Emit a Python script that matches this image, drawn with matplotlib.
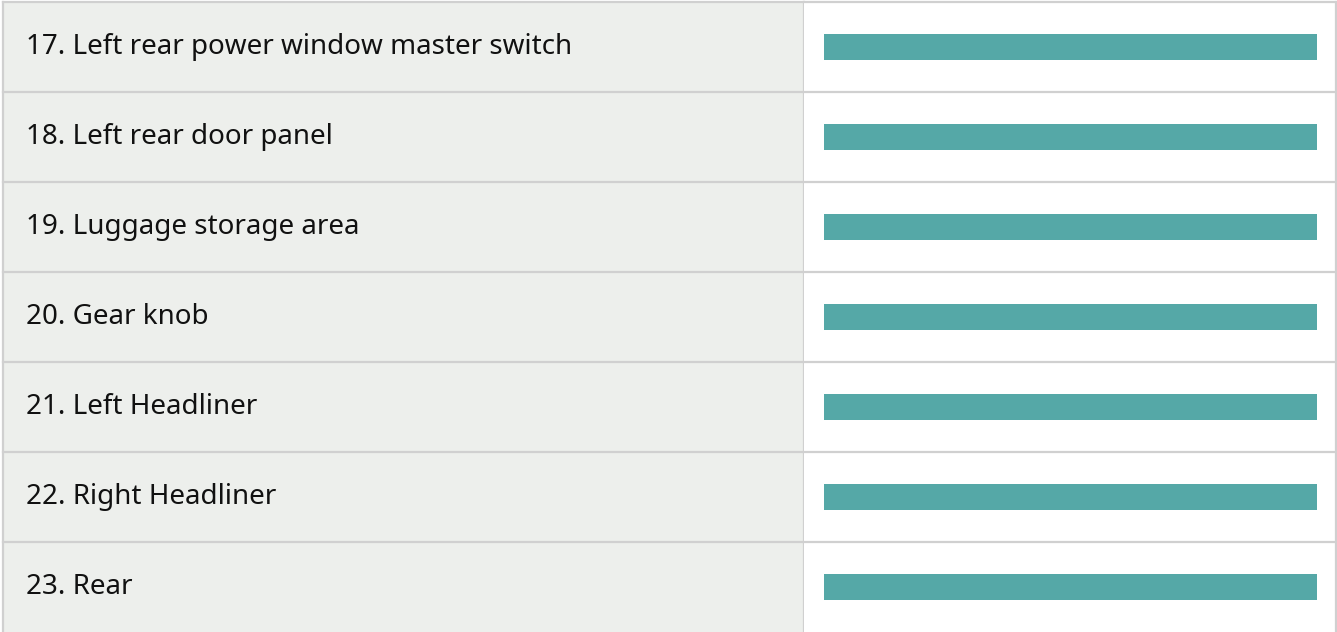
import matplotlib.pyplot as plt

# Table rows: label and bar value (all bars full length)
labels = ['17. Left rear power window master switch',
          '18. Left rear door panel',
          '19. Luggage storage area',
          '20. Gear knob',
          '21. Left Headliner',
          '22. Right Headliner',
          '23. Rear']
values = [100, 100, 100, 100, 100, 100, 100]

W, H = 1337, 632
grid_color = '#d0d0d0'
cell_color = '#edefec'
bar_color = '#55a8a7'

plt.rcParams['font.family'] = ['Noto Sans', 'DejaVu Sans']

fig = plt.figure(figsize=(W / 100, H / 100), dpi=100)
n = len(labels)

# label column
ax_lab = fig.add_axes([3 / W, 0, 801 / W, 630 / H])
ax_lab.set_facecolor(cell_color)
ax_lab.set_xlim(0, 1)
ax_lab.set_ylim(n, 0)
for i, lab in enumerate(labels):
    ax_lab.text(23 / 801, i + 0.5, lab, va='center', ha='left',
                fontsize=20, color='#111111')

# bar column
ax_bar = fig.add_axes([804 / W, 0, 532 / W, 630 / H])
ax_bar.set_facecolor('white')
ax_bar.barh(range(n), values, height=0.29, color=bar_color, align='center')
ax_bar.set_xlim(-20 / 4.93, 100 + 19 / 4.93)
ax_bar.set_ylim(n - 0.5, -0.5)

for ax in (ax_lab, ax_bar):
    ax.set_xticks([])
    ax.set_yticks([])
    for s in ax.spines.values():
        s.set_visible(False)

ax_lab.spines['left'].set_visible(True)
ax_lab.spines['right'].set_visible(True)
ax_bar.spines['right'].set_visible(True)
for s in (ax_lab.spines['left'], ax_lab.spines['right'], ax_bar.spines['right']):
    s.set_color(grid_color)
    s.set_linewidth(1.6)

# row separators
for ax, lo in ((ax_lab, 0), (ax_bar, -0.5)):
    for k in range(n):
        ax.axhline(lo + k, color=grid_color, linewidth=1.6, clip_on=False)

fig.savefig('out.png', dpi=100)
